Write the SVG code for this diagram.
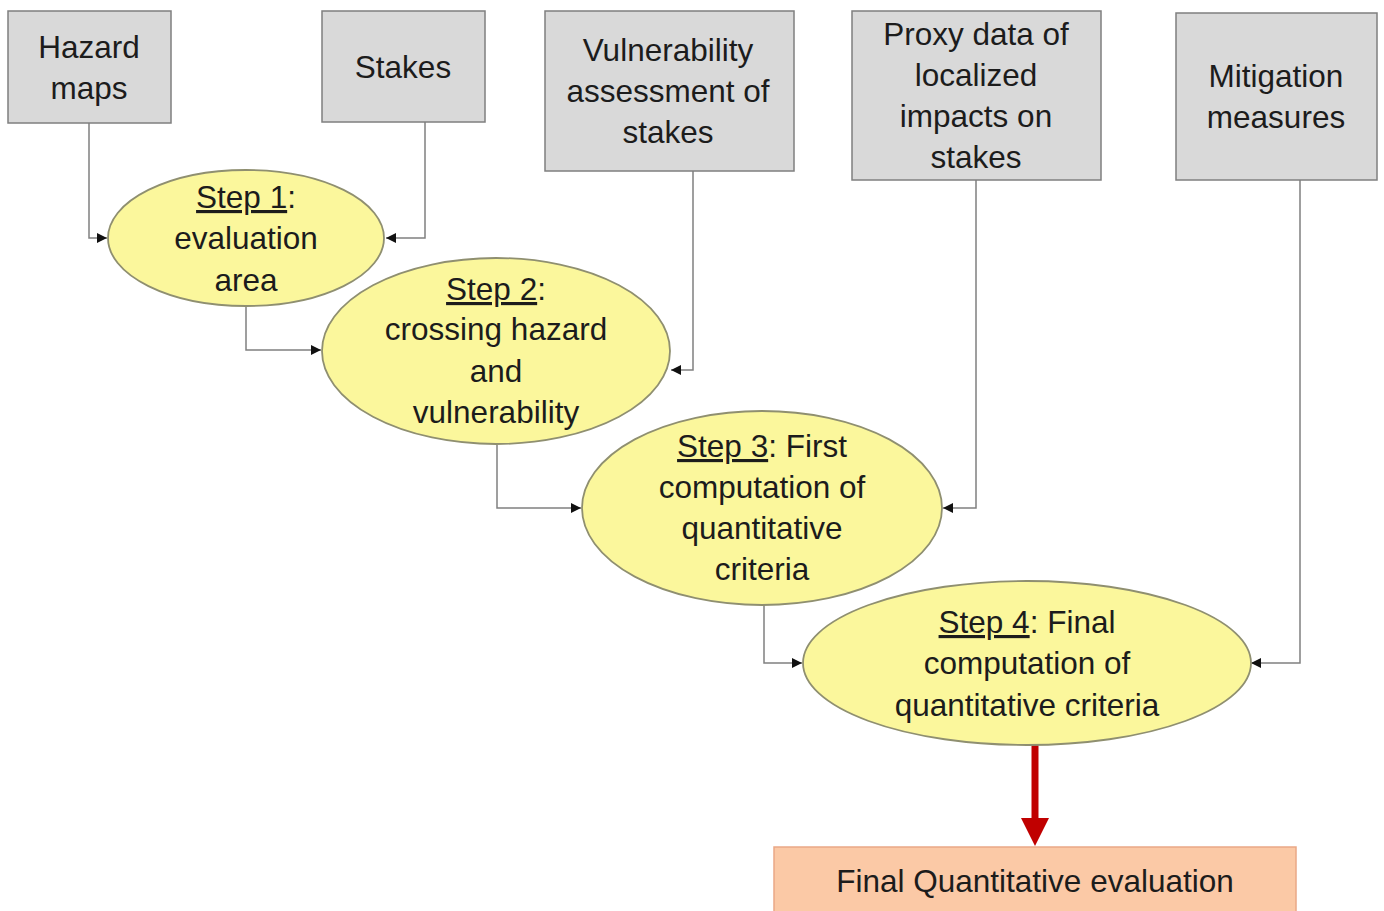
<svg xmlns="http://www.w3.org/2000/svg" width="1384" height="911" viewBox="0 0 1384 911">
<defs>
<style>
.box{fill:#d9d9d9;stroke:#7f7f7f;stroke-width:1.5}
.step{fill:#fbf79c;stroke:#8f8f70;stroke-width:1.8}
.fin{fill:#fbc9a6;stroke:#eaa886;stroke-width:1.5}
text{font-family:"Liberation Sans",Arial,sans-serif;font-size:31.5px;fill:#1c1c1c;text-anchor:middle}
.u{text-decoration:underline}
.conn{fill:none;stroke:#808080;stroke-width:1.5}
</style>
<marker id="ah" viewBox="0 0 10 10" refX="10" refY="5" markerWidth="10" markerHeight="10" markerUnits="userSpaceOnUse" orient="auto">
<path d="M0,0 L10,5 L0,10 z" fill="#111"/>
</marker>
</defs>
<rect width="1384" height="911" fill="#fff"/>
<g id="connectors">
<path class="conn" d="M89,123 V238 H107" marker-end="url(#ah)"/>
<path class="conn" d="M425,122 V238 H386" marker-end="url(#ah)"/>
<path class="conn" d="M246,306 V350 H321" marker-end="url(#ah)"/>
<path class="conn" d="M693,171 V370 H671" marker-end="url(#ah)"/>
<path class="conn" d="M497,445 V508 H581" marker-end="url(#ah)"/>
<path class="conn" d="M976,180 V508 H943" marker-end="url(#ah)"/>
<path class="conn" d="M764,605 V663 H802" marker-end="url(#ah)"/>
<path class="conn" d="M1300,180 V663 H1251" marker-end="url(#ah)"/>
<line x1="1035" y1="745" x2="1035" y2="820" stroke="#c00000" stroke-width="7"/>
<path d="M1021,818 L1049,818 L1035,846 z" fill="#c00000"/>
</g>
<g id="hazard">
<rect class="box" x="8" y="11" width="163" height="112"/>
<text x="89" y="58">Hazard</text>
<text x="89" y="99">maps</text>
</g>
<g id="stakes">
<rect class="box" x="322" y="11" width="163" height="111"/>
<text x="403" y="78">Stakes</text>
</g>
<g id="vulnerability">
<rect class="box" x="545" y="11" width="249" height="160"/>
<text x="668" y="61">Vulnerability</text>
<text x="668" y="102">assessment of</text>
<text x="668" y="143">stakes</text>
</g>
<g id="proxy">
<rect class="box" x="852" y="11" width="249" height="169"/>
<text x="976" y="45">Proxy data of</text>
<text x="976" y="86">localized</text>
<text x="976" y="127">impacts on</text>
<text x="976" y="168">stakes</text>
</g>
<g id="mitigation">
<rect class="box" x="1176" y="13" width="201" height="167"/>
<text x="1276" y="87">Mitigation</text>
<text x="1276" y="128">measures</text>
</g>
<g id="step1">
<ellipse class="step" cx="246" cy="238" rx="138" ry="68"/>
<text x="246" y="208"><tspan class="u">Step 1</tspan>:</text>
<text x="246" y="249">evaluation</text>
<text x="246" y="291">area</text>
</g>
<g id="step2">
<ellipse class="step" cx="496" cy="351" rx="174" ry="93"/>
<text x="496" y="300"><tspan class="u">Step 2</tspan>:</text>
<text x="496" y="340">crossing hazard</text>
<text x="496" y="382">and</text>
<text x="496" y="423">vulnerability</text>
</g>
<g id="step3">
<ellipse class="step" cx="762" cy="508" rx="180" ry="97"/>
<text x="762" y="457"><tspan class="u">Step 3</tspan>: First</text>
<text x="762" y="498">computation of</text>
<text x="762" y="539">quantitative</text>
<text x="762" y="580">criteria</text>
</g>
<g id="step4">
<ellipse class="step" cx="1027" cy="663" rx="224" ry="82"/>
<text x="1027" y="633"><tspan class="u">Step 4</tspan>: Final</text>
<text x="1027" y="674">computation of</text>
<text x="1027" y="716">quantitative criteria</text>
</g>
<g id="final">
<rect class="fin" x="774" y="847" width="522" height="70"/>
<text x="1035" y="892">Final Quantitative evaluation</text>
</g>
</svg>
